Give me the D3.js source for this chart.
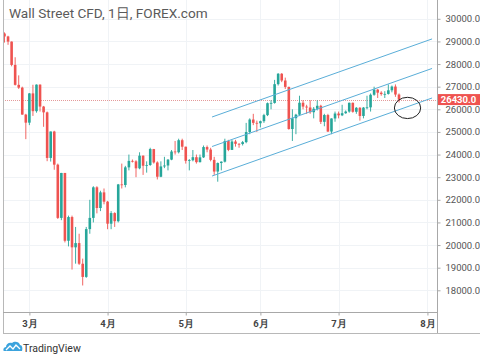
<!DOCTYPE html>
<html><head><meta charset="utf-8">
<script src="https://cdn.jsdelivr.net/npm/d3@7/dist/d3.min.js"></script>
<style>
html,body{margin:0;padding:0;background:#fff;}
svg{display:block;}
text{font-family:Roboto,"Noto Sans",Arial,sans-serif;}
</style></head>
<body>
<svg id="chart" width="480" height="359"></svg>
<script>
// ---- data ----
const dates = ["02-20","02-21","02-24","02-25","02-26","02-27","02-28",
"03-02","03-03","03-04","03-05","03-06","03-09","03-10","03-11","03-12","03-13","03-16","03-17","03-18","03-19","03-20","03-23","03-24","03-25","03-26","03-27","03-30","03-31",
"04-01","04-02","04-03","04-06","04-07","04-08","04-09","04-10","04-13","04-14","04-15","04-16","04-17","04-20","04-21","04-22","04-23","04-24","04-27","04-28","04-29","04-30",
"05-01","05-04","05-05","05-06","05-07","05-08","05-11","05-12","05-13","05-14","05-15","05-18","05-19","05-20","05-21","05-22","05-25","05-26","05-27","05-28","05-29",
"06-01","06-02","06-03","06-04","06-05","06-08","06-09","06-10","06-11","06-12","06-15","06-16","06-17","06-18","06-19","06-22","06-23","06-24","06-25","06-26","06-29","06-30",
"07-01","07-02","07-03","07-06","07-07","07-08","07-09","07-10","07-13","07-14","07-15","07-16","07-17","07-20","07-21","07-22","07-23","07-24"];
const opens = [29350,29219,28992,27961,27081,26957,25766,
25409,26703,25917,27091,26121,25865,23851,25018,23553,21200,23186,20189,21237,19899,20087,19174,18592,20705,21200,22552,21637,22328,
21917,20944,21413,21053,22680,22654,23434,23720,23700,23391,23950,23505,23538,24242,23650,23019,23475,23516,23775,24134,24102,24634,
24346,23724,23750,23883,23664,23876,24331,24222,23765,23248,23625,23685,24597,24206,24576,24474,24465,24550,24995,25548,25401,
25383,25475,25742,26270,26282,27111,27572,27272,26990,25128,25606,25763,26290,26120,26080,25871,26025,26156,25445,25746,25016,25595,
25813,25734,25827,25900,26287,25890,26067,25706,26075,26086,26643,26870,26735,26672,26680,26840,27005,26652];
const highs = [29400,29250,29000,28300,27500,27000,25800,
26720,27084,27100,27100,26150,25900,25020,25050,23600,23190,23190,21300,21300,20800,20500,19400,20800,22000,22600,22600,22400,22500,
21950,21500,21450,22700,23600,23500,24000,23780,23750,24100,23960,23700,24300,24250,23700,23700,23900,23800,24200,24600,24700,24700,
24350,23800,24200,24000,24000,24400,24400,24300,23900,23650,23700,24700,24650,24650,24650,24500,24600,25400,25600,25800,25500,
25500,25800,26300,26400,27300,27600,27600,27400,27000,26000,25800,26600,26400,26200,26400,26100,26400,26200,25800,25800,25600,25900,
25900,26200,25950,26300,26300,26100,26100,26100,26600,26700,27000,26900,26800,26800,27100,27050,27100,26700];
const lows = [28950,28850,27900,27050,26900,25760,24681,
25300,25707,25850,25900,25226,23706,23690,23328,21154,21100,20116,19941,18917,19177,19121,18213,18550,20500,21000,21400,21500,21800,
20700,20700,20800,21000,22500,22550,23300,23650,23000,23350,23100,23200,23500,23600,22900,23000,23400,23300,23750,24000,24050,24200,
23600,23300,23700,23600,23650,23850,24100,23700,23100,22800,23300,23650,24150,24200,24350,24300,24400,24500,24900,25300,25000,
25200,25400,25700,26000,26250,27050,27200,26900,25100,24600,24900,25700,26000,25800,25800,25600,25950,25350,25250,25000,24900,25450,
25600,25700,25800,25850,25850,25800,25500,25600,26000,25900,26600,26500,26600,26500,26650,26750,26550,26300];
const closes = [29219,28992,27961,27081,26957,25766,25409,
26703,25917,27091,26121,25865,23851,25018,23553,21200,23186,20189,21237,19899,20087,19174,18592,20705,21200,22552,21637,22328,21917,
20944,21413,21053,22680,22654,23434,23720,23700,23391,23950,23505,23538,24242,23650,23019,23475,23516,23775,24134,24102,24634,24346,
23724,23750,23883,23664,23876,24331,24222,23765,23248,23625,23685,24597,24206,24576,24474,24465,24550,24995,25548,25401,25383,
25475,25742,26270,26282,27111,27572,27272,26990,25128,25606,25763,26290,26120,26080,25871,26025,26156,25445,25746,25016,25595,25813,
25734,25827,25900,26287,25890,26067,25706,26075,26086,26643,26870,26735,26672,26680,26840,27005,26652,26430];
const priceTicks = [18000,19000,20000,21000,22000,23000,24000,25000,26000,27000,28000,29000,30000];
const monthLabels = ["3月","4月","5月","6月","7月","8月"];
const monthIdx = [7,29,51,72,94,119];
const lastPrice = 26430.0;
// channel lines: [startIdx, startPrice, endIdx, endPrice]
const channelStart = [58.4, 120.3];
const channelLower = [23050, 26500];
const channelMid = [24355, 27805];
const channelUpper = [25660, 29110];
const circleCenter = [113.4, 26060];
const circleRadius = [3.7, 470];
const title = "Wall Street CFD, 1日, FOREX.com";

// ---- layout ----
const svg = d3.select("#chart");
const plotL = 3, plotR = 437, axisY = 312, frameB = 333;
const x = d3.scaleLinear().domain([0, closes.length - 1]).range([4.5, 399]);
const y = d3.scaleLinear().domain([18000, 30000]).range([290.3, 18.8]);
const UP = "#26a69a", DOWN = "#ef5350";

// grid
svg.append("g").selectAll("line").data(priceTicks).join("line")
  .attr("x1", plotL).attr("x2", plotR)
  .attr("y1", d => Math.round(y(d)) + 0.5).attr("y2", d => Math.round(y(d)) + 0.5)
  .attr("stroke", "#f0f3f6").attr("stroke-width", 1);
svg.append("g").selectAll("line").data(monthIdx).join("line")
  .attr("x1", d => Math.round(x(d)) + 0.5).attr("x2", d => Math.round(x(d)) + 0.5)
  .attr("y1", 0).attr("y2", axisY)
  .attr("stroke", "#f0f3f6").attr("stroke-width", 1);

// last price dotted line
svg.append("line")
  .attr("x1", plotL).attr("x2", plotR)
  .attr("y1", Math.round(y(lastPrice)) + 0.5).attr("y2", Math.round(y(lastPrice)) + 0.5)
  .attr("stroke", "#e39a9a").attr("stroke-width", 1).attr("stroke-dasharray", "1,1");

// candles
const bw = 2.6;
const cg = svg.append("g");
d3.range(closes.length).forEach(i => {
  const col = closes[i] >= opens[i] ? UP : DOWN;
  const cx = x(i);
  cg.append("line").attr("x1", cx).attr("x2", cx)
    .attr("y1", y(highs[i])).attr("y2", y(lows[i]))
    .attr("stroke", col).attr("stroke-width", 0.9);
  const top = y(Math.max(opens[i], closes[i])), bot = y(Math.min(opens[i], closes[i]));
  cg.append("rect").attr("x", cx - bw / 2).attr("width", bw)
    .attr("y", top).attr("height", Math.max(0.8, bot - top))
    .attr("fill", col);
});

// channel lines
[channelLower, channelMid, channelUpper].forEach(p => {
  svg.append("line")
    .attr("x1", x(channelStart[0])).attr("y1", y(p[0]))
    .attr("x2", x(channelStart[1])).attr("y2", y(p[1]))
    .attr("stroke", "#5aaed8").attr("stroke-width", 1);
});

// ellipse
svg.append("ellipse")
  .attr("cx", x(circleCenter[0])).attr("cy", y(circleCenter[1]))
  .attr("rx", x(circleCenter[0] + circleRadius[0]) - x(circleCenter[0]))
  .attr("ry", y(circleCenter[1] - circleRadius[1]) - y(circleCenter[1]))
  .attr("fill", "none").attr("stroke", "#222").attr("stroke-width", 1);

// frame lines
svg.append("line").attr("x1", plotL + 0.5).attr("x2", plotL + 0.5).attr("y1", 0).attr("y2", frameB)
  .attr("stroke", "#b8b8b8");
svg.append("line").attr("x1", plotR + 0.5).attr("x2", plotR + 0.5).attr("y1", 0).attr("y2", frameB)
  .attr("stroke", "#a8a8a8");
svg.append("line").attr("x1", plotL).attr("x2", plotR).attr("y1", axisY + 0.5).attr("y2", axisY + 0.5)
  .attr("stroke", "#a8a8a8");
svg.append("line").attr("x1", plotL).attr("x2", 480).attr("y1", frameB + 0.5).attr("y2", frameB + 0.5)
  .attr("stroke", "#b8b8b8");

// price axis
const yAxis = d3.axisRight(y).tickValues(priceTicks).tickFormat(d => d3.format(".1f")(d)).tickSize(3).tickPadding(5);
const ya = svg.append("g").attr("transform", `translate(${plotR + 0.5},0)`).call(yAxis);
ya.select(".domain").remove();
ya.selectAll(".tick line").attr("stroke", "#a8a8a8");
ya.selectAll(".tick text").attr("fill", "#555").attr("font-size", "9.5px")
  .attr("font-family", "Roboto, 'Noto Sans', sans-serif");

// time axis
const xAxis = d3.axisBottom(x).tickValues(monthIdx).tickFormat((d, i) => monthLabels[i]).tickSize(3).tickPadding(5);
const xa = svg.append("g").attr("transform", `translate(0,${axisY + 0.5})`).call(xAxis);
xa.select(".domain").remove();
xa.selectAll(".tick line").attr("stroke", "#a8a8a8");
xa.selectAll(".tick text").attr("fill", "#444").attr("font-size", "9.5px").attr("font-weight", "bold")
  .attr("font-family", "'Noto Sans CJK SC', sans-serif");

// last price label
const ly = y(lastPrice);
svg.append("rect").attr("x", plotR + 1).attr("y", ly - 5.5).attr("width", 480 - plotR - 1).attr("height", 11)
  .attr("fill", "#ef5350");
svg.append("text").attr("x", 458.5).attr("y", ly + 3.5).attr("fill", "#fff").attr("text-anchor", "middle")
  .attr("font-size", "9.5px").attr("font-weight", "bold").text(d3.format(".1f")(lastPrice));

// title
svg.append("text").attr("x", 9).attr("y", 18).attr("fill", "#5a5a5a").attr("font-size", "13.6px")
  .attr("font-family", "'Noto Sans', 'Noto Sans CJK SC', sans-serif").text(title);

// TradingView logo
const lg = svg.append("g").attr("transform", "translate(3,341)");
lg.append("path").attr("d", "M1,10 C0,10 0,6 3,6 C3,3 6,1 9,2 C11,0 16,0 17,4 C19,4 20,7 19,10 Z").attr("fill", "#3ba3dd");
lg.append("path").attr("d", "M3,9 L7,5 L10,8 L13,4 L17,8").attr("fill", "none").attr("stroke", "#fff").attr("stroke-width", 1.3);
svg.append("text").attr("x", 23).attr("y", 352).attr("fill", "#333").attr("font-size", "10.5px")
  .attr("font-family", "'Noto Sans', sans-serif").text("TradingView");
</script>
</body></html>
